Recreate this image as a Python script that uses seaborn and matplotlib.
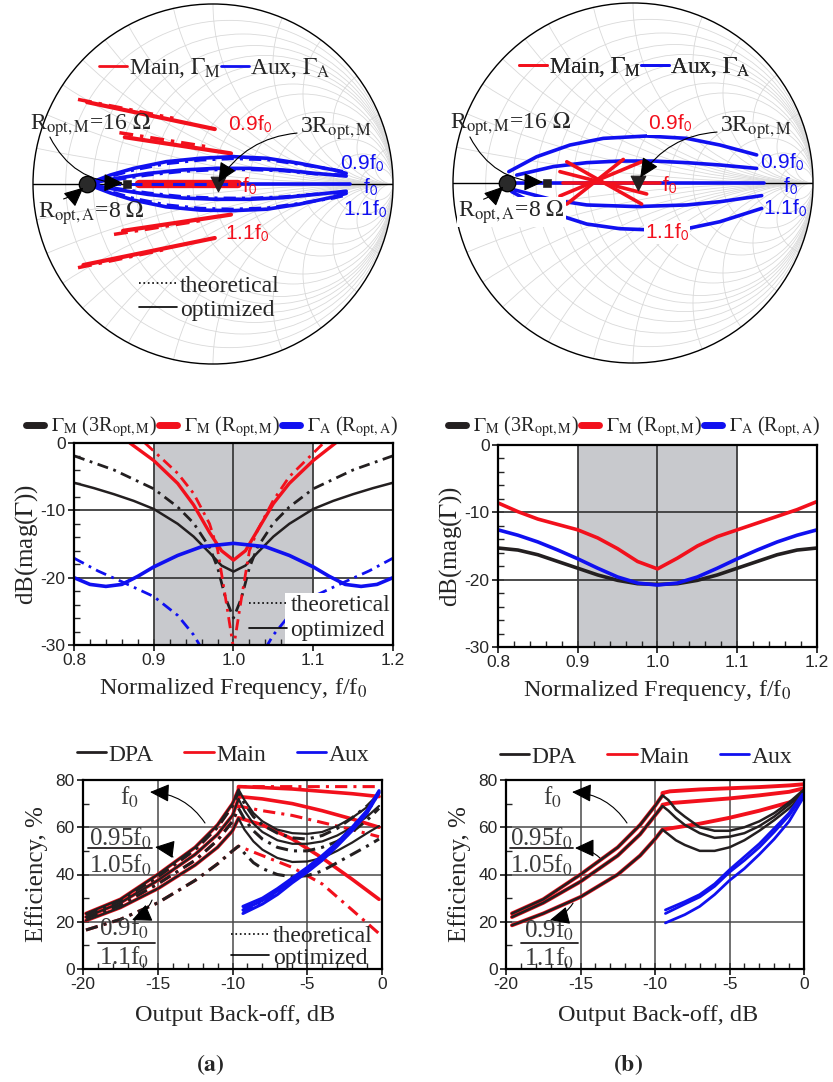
import numpy as np
import matplotlib
matplotlib.use("Agg")
import matplotlib.pyplot as plt
import seaborn as sns
from matplotlib.lines import Line2D
from matplotlib.patches import Circle, Rectangle

sns.set_style("ticks")
plt.rcParams["font.family"] = ["Liberation Serif", "DejaVu Serif"]
plt.rcParams["mathtext.fontset"] = "stix"
plt.rcParams["axes.unicode_minus"] = False

RED = "#f2101c"
BLUE = "#1010f0"
BLK = "#231f20"
GRID = "#d9d9d9"
DASHDOT = (0, (4, 2, 1, 2))

# ---------------- Smith chart (a), Gamma plane ----------------
main_a_re = [[-0.70, 0.01], [-0.49, 0.10], [-0.41, 0.14], [-0.50, 0.10], [-0.72, 0.01]]
main_a_im = [[0.455, 0.305], [0.26, 0.17], [0.0, 0.0], [-0.26, -0.17], [-0.45, -0.30]]
main_a_th_re = [[-0.75, -0.22], [-0.52, -0.02], [-0.55, -0.05], [-0.75, -0.25]]
main_a_th_im = [[0.47, 0.365], [0.285, 0.205], [-0.28, -0.20], [-0.465, -0.36]]

aux_a_out_re = [-0.70, -0.57, -0.44, -0.26, -0.07, 0.11, 0.30, 0.48, 0.67, 0.74]
aux_a_up_im = [0.0, 0.05, 0.087, 0.124, 0.143, 0.152, 0.143, 0.115, 0.078, 0.059]
aux_a_lo_im = [0.0, -0.05, -0.09, -0.127, -0.145, -0.148, -0.14, -0.112, -0.072, -0.052]
aux_a_up_th_im = [0.0, 0.042, 0.078, 0.113, 0.133, 0.141, 0.135, 0.11, 0.08, 0.066]
aux_a_lo_th_im = [0.0, -0.042, -0.08, -0.116, -0.135, -0.14, -0.133, -0.108, -0.078, -0.062]
aux_a_in_re = [-0.70, -0.54, -0.36, -0.17, 0.02, 0.20, 0.39, 0.57, 0.74]
aux_a_upin_im = [0.0, 0.031, 0.059, 0.078, 0.087, 0.087, 0.078, 0.059, 0.044]
aux_a_loin_im = [0.0, -0.03, -0.058, -0.078, -0.085, -0.085, -0.076, -0.058, -0.04]
aux_a_upin_th_im = [0.0, 0.024, 0.05, 0.07, 0.079, 0.08, 0.073, 0.056, 0.05]
aux_a_loin_th_im = [0.0, -0.024, -0.05, -0.07, -0.078, -0.079, -0.071, -0.056, -0.048]
aux_a_mid_re = [0.16, 0.76]
aux_a_mid_th_re = [-0.70, 0.14]

# ---------------- Smith chart (b) ----------------
main_b_re = [[-0.368, 0.048], [-0.406, 0.076], [-0.406, 0.048], [-0.368, -0.054], [-0.387, 0.15]]
main_b_im = [[0.118, -0.117], [0.063, -0.061], [-0.072, 0.118], [-0.117, 0.131], [0.002, 0.002]]

aux_b_out_re = [-0.69, -0.535, -0.35, -0.165, 0.076, 0.298, 0.483, 0.687]
aux_b_out_im = [0.063, 0.146, 0.211, 0.248, 0.261, 0.248, 0.211, 0.156]
aux_b_in_re = [-0.646, -0.443, -0.257, -0.072, 0.113, 0.298, 0.483, 0.687]
aux_b_in_im = [0.044, 0.091, 0.113, 0.122, 0.122, 0.113, 0.10, 0.081]
aux_b_lin_re = [-0.656, -0.443, -0.257, 0.02, 0.298, 0.483, 0.715]
aux_b_lin_im = [-0.039, -0.094, -0.122, -0.131, -0.122, -0.104, -0.07]
aux_b_lout_re = [-0.674, -0.554, -0.433, -0.257, -0.072, 0.113, 0.298, 0.483, 0.715]
aux_b_lout_im = [-0.048, -0.113, -0.172, -0.228, -0.254, -0.261, -0.254, -0.215, -0.141]
aux_b_mid_re = [-0.69, 0.73]

# markers: R_opt,A dot, R_opt,M square, 3R_opt,M triangle
mark_re_a = [-0.70, -0.48, 0.03]
mark_re_b = [-0.70, -0.48, 0.03]

# ---------------- dB(mag(Gamma)) vs f/f0, panel (a) ----------------
blk_a_f = [0.8, 0.825, 0.85, 0.875, 0.9, 0.915, 0.93, 0.95, 0.97, 0.985, 1.0,
           1.015, 1.03, 1.05, 1.07, 1.085, 1.1, 1.125, 1.15, 1.175, 1.2]
blk_a_db = [-5.9, -6.7, -7.6, -8.6, -9.8, -10.9, -12.0, -13.9, -16.3, -18.2, -19.1,
            -18.2, -16.3, -13.9, -12.0, -10.9, -9.8, -8.6, -7.6, -6.7, -5.9]
blk_a_th_f = [0.8, 0.85, 0.9, 0.93, 0.95, 0.97, 0.98, 0.99, 1.0, 1.01, 1.02, 1.03, 1.05, 1.07, 1.1, 1.15, 1.2]
blk_a_th_db = [-1.9, -4.0, -6.8, -9.5, -11.9, -15.5, -18.5, -23.0, -26.0, -23.0, -18.5, -15.5, -11.9, -9.5, -6.8, -4.0, -1.9]
red_a_f = [0.87, 0.9, 0.93, 0.95, 0.97, 0.985, 1.0, 1.015, 1.03, 1.05, 1.07, 1.1, 1.128]
red_a_db = [0.0, -2.6, -6.0, -9.2, -13.3, -16.0, -17.4, -16.0, -13.0, -9.0, -6.0, -2.6, 0.0]
red_a_th_f = [0.889, 0.9, 0.93, 0.95, 0.97, 0.98, 0.99, 1.0, 1.01, 1.02, 1.03, 1.05, 1.07, 1.1, 1.113]
red_a_th_db = [0.0, -1.2, -4.5, -7.5, -12.0, -15.8, -23.0, -30.5, -23.0, -16.0, -13.0, -8.5, -5.0, -1.5, 0.0]
blue_a_f = [0.8, 0.82, 0.84, 0.86, 0.88, 0.9, 0.93, 0.96, 1.0, 1.04, 1.07, 1.1, 1.12, 1.14, 1.16, 1.18, 1.2]
blue_a_db = [-20.0, -21.0, -21.3, -21.0, -19.8, -18.4, -16.7, -15.4, -14.9, -15.4, -16.7, -18.4, -19.8, -21.0, -21.3, -21.0, -20.0]
blue_a_th_f = [0.8, 0.83, 0.86, 0.9, 0.93, 0.95, 0.96, None, 1.04, 1.05, 1.07, 1.1, 1.14, 1.17, 1.2]
blue_a_th_db = [-17.1, -19.0, -20.6, -22.8, -25.6, -28.5, -30.5, None, -30.5, -28.5, -25.6, -22.8, -20.6, -19.0, -17.1]

# ---------------- dB(mag(Gamma)) vs f/f0, panel (b) ----------------
db_b_f = [0.8, 0.825, 0.85, 0.875, 0.9, 0.925, 0.95, 0.975, 1.0,
          1.025, 1.05, 1.075, 1.1, 1.125, 1.15, 1.175, 1.2]
red_b_db = [-8.6, -9.9, -11.0, -11.8, -12.6, -13.8, -15.4, -17.3, -18.4,
            -16.8, -15.0, -13.6, -12.6, -11.6, -10.6, -9.6, -8.4]
blue_b_db = [-12.6, -13.4, -14.4, -15.6, -16.9, -18.3, -19.6, -20.5, -20.8,
             -20.5, -19.6, -18.3, -16.9, -15.6, -14.4, -13.4, -12.6]
blk_b_db = [-15.3, -15.6, -16.3, -17.3, -18.3, -19.3, -20.1, -20.6, -20.7,
            -20.6, -20.1, -19.3, -18.3, -17.3, -16.3, -15.6, -15.3]

# ---------------- Efficiency vs back-off, panel (a) ----------------
eff_a_x = [-19.8, -17.5, -15, -12.5, -11, -10, -9.6, -9.2, -8.6, -8, -7, -6, -5, -4, -3, -2, -1, -0.2]
dpa_a_f0 = [23.5, 29.5, 40, 51.5, 61, 70, 76, 71.5, 66, 62.5, 59, 57.5, 57.2, 58, 60.5, 64, 68.5, 74.5]
dpa_a_095 = [22, 28, 37.5, 48.5, 57, 65, 72, 67, 61.5, 58, 54.5, 53, 53, 54, 56.5, 60, 64.5, 69]
dpa_a_09 = [20.5, 26, 34, 44, 51.5, 58.5, 63.8, 59, 54, 50.5, 47, 45.3, 45.5, 47, 50, 53.5, 57.5, 60.5]
dpa_a_f0_th = [23, 29, 39, 50.5, 60, 69, 75, 70, 64.5, 61, 57.5, 55.5, 55, 56.5, 59.5, 64, 69, 74]
dpa_a_095_th = [21.5, 27, 36, 46, 54.5, 62.5, 68, 63.5, 58.5, 55, 51.5, 50, 50, 51.5, 54, 58, 63, 68]
dpa_a_09_th = [16.5, 21, 28, 37.5, 44.5, 50, 52, 49, 45, 42.5, 40, 39, 39.5, 41.5, 45, 48.5, 52, 55]
main_a_x = [-9.6, -8, -6, -4, -2, -0.2]
main_a_f0 = [77.2, 76.8, 76.2, 75.2, 74.2, 73]
main_a_095 = [73, 72, 70, 67, 63.5, 60]
main_a_09 = [64, 61, 55, 47, 38, 29.5]
main_a_f0_th = [77.2, 77.2, 77.2, 77.2, 77.2, 77.2]
main_a_095_th = [69, 67, 65, 62, 59, 56]
main_a_09_th = [52, 48, 43, 36, 25, 15]
aux_eff_a_x = [-9.3, -8, -7, -6, -5, -4, -3, -2, -1, -0.2]
aux_eff_a = [[25, 29, 33, 37.5, 42, 47, 53, 59.5, 66.5, 75],
             [23.5, 27.5, 31.5, 36.5, 41, 46, 52, 58.5, 66, 74.5],
             [26.5, 30, 34, 38.5, 43, 48, 53.5, 60, 67, 75.5]]
aux_eff_a_th = [[24, 28.5, 32.5, 37, 41.5, 46.5, 52.5, 59, 66, 74.5],
                [25.5, 29.5, 33.5, 38, 42.5, 47.5, 53, 60, 67, 75]]

# ---------------- Efficiency vs back-off, panel (b) ----------------
eff_b_x = [-19.6, -17.5, -15, -12.5, -11, -10, -9.5, -9.1, -8.6, -8, -7, -6, -5, -4, -3, -2, -1, 0]
dpa_b_f0 = [23.5, 29.5, 40, 51.5, 61, 69, 73.5, 71.5, 67.5, 64.5, 60, 58.5, 58.5, 60, 62.5, 66, 70.5, 76]
dpa_b_095 = [22, 28, 37, 48, 57, 65, 69, 67, 64, 61, 57.5, 55.5, 56, 57.5, 60.5, 64.5, 69.5, 75]
dpa_b_09 = [18.5, 23.5, 30.5, 40, 48, 55, 59, 57, 54.5, 52.5, 50, 50, 51.5, 54.5, 58.5, 63, 68, 74]
main_b_x = [-9.5, -9, -7, -5, -3, -1, 0]
main_b_f0 = [74.5, 75.2, 76, 76.5, 77, 77.7, 78.2]
main_b_095 = [69.5, 70.2, 71.2, 72.2, 73.5, 75, 76.5]
main_b_09 = [59, 59.5, 61.5, 64, 67, 70.5, 73]
aux_eff_b_x = [-9.3, -8, -7, -6, -5, -4, -3, -2, -1, -0.1]
aux_eff_b = [[25, 28.5, 31.5, 36, 42, 47.5, 53, 59.5, 66, 74],
             [23.5, 27.5, 30.5, 35, 41, 46, 51.5, 58, 65, 73],
             [19.5, 23, 26.5, 31.5, 37.5, 42.5, 48.5, 55, 62.5, 72]]

W, H = 833, 1082
fig = plt.figure(figsize=(W / 100, H / 100), dpi=100)


def box(l, t, w, h):
    return fig.add_axes([l / W, 1 - (t + h) / H, w / W, h / H])


def line(ax, xs, ys, color, lw=2.0, ls="-", z=2):
    sns.lineplot(x=xs, y=ys, ax=ax, color=color, lw=lw, linestyle=ls,
                 sort=False, estimator=None, zorder=z)


def arrow(ax, tail, head, rad):
    ax.annotate("", xy=head, xytext=tail, zorder=8,
                arrowprops=dict(arrowstyle="-|>,head_length=0.6,head_width=0.28",
                                color="black", lw=0.8, mutation_scale=20,
                                shrinkA=0, shrinkB=0,
                                connectionstyle=f"arc3,rad={rad}"))


def th_opt_legend(ax, loc_xy, fs, spacing=0.1):
    hs = [Line2D([], [], color="black", lw=1.2, ls=":"),
          Line2D([], [], color="black", lw=1.2)]
    lg = ax.legend(hs, ["theoretical", "optimized"], loc="center",
                   bbox_to_anchor=loc_xy, bbox_transform=ax.transData,
                   frameon=False, fontsize=fs, handlelength=1.6,
                   handletextpad=0.15, labelspacing=spacing, borderpad=0)
    lg.set_zorder(9)
    return lg


r_grid = [0.1, 0.2, 0.3, 0.4, 0.5, 0.6, 0.8, 1.0, 1.5, 2.0, 3.0, 5.0, 10.0]
x_grid = [0.1, 0.2, 0.3, 0.4, 0.5, 0.6, 0.8, 1.0, 1.5, 2.0, 3.0, 5.0, 10.0]


def smith_base(ax):
    ax.axis("off")
    edge = Circle((0, 0), 1, transform=ax.transData, fc="none", ec="none")
    ax.add_patch(edge)
    for r in r_grid:
        ax.add_patch(Circle((r / (1 + r), 0), 1 / (1 + r), fill=False, ec=GRID, lw=0.6, zorder=0))
    for x in x_grid:
        for s in (1, -1):
            c = Circle((1, s / x), 1 / x, fill=False, ec=GRID, lw=0.6, zorder=0)
            ax.add_patch(c)
            c.set_clip_path(edge)
    ax.add_patch(Circle((0, 0), 1, fill=False, ec="black", lw=1.0, zorder=1, clip_on=False))
    ax.plot([-1, 1], [0, 0], color="black", lw=1.0, zorder=1)


def smith_finish(ax, marks):
    sns.scatterplot(x=[marks[0]], y=[0], ax=ax, s=140, color="#2a2a2a", edgecolor="black", zorder=6)
    sns.scatterplot(x=[marks[1]], y=[0], ax=ax, s=30, marker="s", color=BLK, edgecolor=BLK, zorder=6)
    sns.scatterplot(x=[marks[2]], y=[0], ax=ax, s=110, marker="v", color=BLK, edgecolor=BLK, zorder=6)
    hs = [Line2D([], [], color=RED, lw=2), Line2D([], [], color=BLUE, lw=2)]
    lg = ax.legend(hs, [r"Main, $\Gamma_{\rm M}$", r"Aux, $\Gamma_{\rm A}$"], ncol=2, loc="center",
                   bbox_to_anchor=(0.01, 0.644), bbox_transform=ax.transData, frameon=False,
                   fontsize=17, handlelength=1.2, handletextpad=0.05, columnspacing=0.0, borderpad=0)
    ax.add_artist(lg)
    ax.set_xlim(-1, 1)
    ax.set_ylim(-1, 1)
    ax.set_aspect("equal")


def smith_text(ax, wb):
    bb = dict(fc="white", ec="none", pad=0.6) if wb else None
    ax.text(-1.017, 0.33, r"R$_{\rm opt,M}$=16 $\Omega$", fontsize=17, va="center", zorder=7)
    ax.text(-0.972, -0.161, r"R$_{\rm opt,A}$=8 $\Omega$", fontsize=17, va="center", zorder=7, bbox=bb)
    ax.text(0.483, 0.31, r"3R$_{\rm opt,M}$", fontsize=17, va="center", zorder=7)
    sans = dict(fontfamily="Liberation Sans", fontsize=15, va="center", zorder=7)
    ax.text(0.083, 0.33, r"0.9f$_\mathsf{0}$", color=RED, bbox=bb, **sans)
    ax.text(0.161, -0.01, r"f$_\mathsf{0}$", color=RED, **sans)
    ax.text(0.067, -0.275, r"1.1f$_\mathsf{0}$", color=RED, bbox=bb, **sans)
    ax.text(0.706, 0.117, r"0.9f$_\mathsf{0}$", color=BLUE, **sans)
    ax.text(0.833, -0.015, r"f$_\mathsf{0}$", color=BLUE, **sans)
    ax.text(0.722, -0.142, r"1.1f$_\mathsf{0}$", color=BLUE, **sans)


# ======== Smith (a) ========
ax = box(33, 4, 360, 360)
smith_base(ax)
for xs, ys in zip(main_a_re, main_a_im):
    line(ax, xs, ys, RED, 3.0)
line(ax, main_a_re[2], main_a_im[2], RED, 6.0)
for xs, ys in zip(main_a_th_re, main_a_th_im):
    line(ax, xs, ys, RED, 2.5, DASHDOT)
for ys in (aux_a_up_im, aux_a_lo_im):
    line(ax, aux_a_out_re, ys, BLUE, 2.6, z=3)
for ys in (aux_a_up_th_im, aux_a_lo_th_im):
    line(ax, aux_a_out_re, ys, BLUE, 2.2, DASHDOT, z=3)
for ys in (aux_a_upin_im, aux_a_loin_im):
    line(ax, aux_a_in_re, ys, BLUE, 2.6, z=3)
for ys in (aux_a_upin_th_im, aux_a_loin_th_im):
    line(ax, aux_a_in_re, ys, BLUE, 2.2, DASHDOT, z=3)
line(ax, aux_a_mid_re, [0, 0], BLUE, 2.6, z=3)
line(ax, aux_a_mid_th_re, [0, 0], BLUE, 2.2, (0, (4, 3)), z=4)
smith_finish(ax, mark_re_a)
smith_text(ax, False)
arrow(ax, (-0.906, 0.261), (-0.50, 0.005), 0.3)
arrow(ax, (-0.83, -0.083), (-0.72, -0.02), 0.1)
arrow(ax, (0.467, 0.283), (0.03, 0.01), 0.25)
th_opt_legend(ax, (-0.02, -0.633), 17)

# ======== Smith (b) ========
ax = box(453, 3, 360, 360)
smith_base(ax)
line(ax, aux_b_out_re, aux_b_out_im, BLUE, 2.6)
line(ax, aux_b_in_re, aux_b_in_im, BLUE, 2.6)
line(ax, aux_b_lin_re, aux_b_lin_im, BLUE, 2.6)
line(ax, aux_b_lout_re, aux_b_lout_im, BLUE, 2.6)
line(ax, aux_b_mid_re, [0, 0], BLUE, 2.6)
for xs, ys in zip(main_b_re, main_b_im):
    line(ax, xs, ys, RED, 2.6, z=3)
smith_finish(ax, mark_re_b)
smith_text(ax, True)
arrow(ax, (-0.906, 0.256), (-0.50, 0.005), 0.3)
arrow(ax, (-0.83, -0.09), (-0.72, -0.02), 0.1)
arrow(ax, (0.467, 0.283), (0.04, 0.03), 0.25)


# ======== dB panels ========
def db_base(ax):
    ax.axvspan(0.9, 1.1, color="#c8c9cd", zorder=0, lw=0)
    for v in (0.9, 1.0, 1.1):
        ax.axvline(v, color="#3c3c3c", lw=1.3, zorder=1)
    for v in (-10, -20):
        ax.axhline(v, color="#3c3c3c", lw=1.3, zorder=1)


def style_axes(ax):
    for s in ax.spines.values():
        s.set_linewidth(1.6)
        s.set_color("black")
        s.set_zorder(6)
    ax.tick_params(which="major", direction="inout", length=8, width=1.3, labelsize=12.5,
                   labelfontfamily="Liberation Sans", pad=2, top=False, right=False)
    ax.tick_params(which="minor", direction="in", length=4, width=1.0, top=False, right=False)


def db_finish(ax):
    ax.set_xlim(0.8, 1.2)
    ax.set_ylim(-30, 0)
    ax.set_xticks([0.8, 0.9, 1.0, 1.1, 1.2], ["0.8", "0.9", "1.0", "1.1", "1.2"])
    ax.set_xticks(np.arange(0.8, 1.2001, 0.02), minor=True)
    ax.set_yticks([-30, -20, -10, 0], ["-30", "-20", "-10", "0"])
    ax.set_yticks(np.arange(-30, 0.1, 2), minor=True)
    ax.set_xlabel(r"Normalized Frequency, f/f$_{\rm 0}$", fontsize=17.5)
    ax.xaxis.set_label_coords(0.5, -0.215)
    ax.xaxis.label.set_va("center")
    ax.set_ylabel(r"dB(mag($\Gamma$))", fontsize=18)
    ax.yaxis.set_label_coords(-0.15, 0.5)
    ax.yaxis.label.set_va("center")
    style_axes(ax)


def db_legend(cx):
    hs = [Line2D([], [], color=BLK, lw=5), Line2D([], [], color=RED, lw=5),
          Line2D([], [], color=BLUE, lw=5)]
    labels = [r"$\Gamma_{\rm M}$ (3R$_{\rm opt,M}$)", r"$\Gamma_{\rm M}$ (R$_{\rm opt,M}$)",
              r"$\Gamma_{\rm A}$ (R$_{\rm opt,A}$)"]
    fig.legend(hs, labels, ncol=3, loc="center", bbox_to_anchor=(cx / W, 1 - 427 / H),
               frameon=False, fontsize=14.5, handlelength=0.9, handletextpad=0.35,
               columnspacing=0.1, borderpad=0)


ax = box(74, 443, 319, 202)
db_base(ax)
line(ax, blk_a_f, blk_a_db, BLK, 1.8)
line(ax, blk_a_th_f, blk_a_th_db, BLK, 2.0, DASHDOT)
line(ax, red_a_f, red_a_db, RED, 2.4)
line(ax, red_a_th_f, red_a_th_db, RED, 2.0, DASHDOT)
line(ax, blue_a_f, blue_a_db, BLUE, 2.6)
line(ax, blue_a_th_f[:7], blue_a_th_db[:7], BLUE, 2.0, DASHDOT)
line(ax, blue_a_th_f[8:], blue_a_th_db[8:], BLUE, 2.0, DASHDOT)
ax.add_patch(Rectangle((1.065, -30), 0.135, 7.7, color="white", zorder=5, lw=0))
th_opt_legend(ax, (1.108, -26.0), 17, spacing=0.15)
db_finish(ax)
db_legend(212)

ax = box(498, 445, 319, 202)
db_base(ax)
line(ax, db_b_f, blk_b_db, BLK, 2.6)
line(ax, db_b_f, blue_b_db, BLUE, 2.6)
line(ax, db_b_f, red_b_db, RED, 2.6)
db_finish(ax)
db_legend(634)


# ======== Efficiency panels ========
def eff_base(ax):
    for v in (-15, -10, -5):
        ax.axvline(v, color="#4a4a4a", lw=1.1, zorder=1)
    for v in (20, 40, 60):
        ax.axhline(v, color="#4a4a4a", lw=1.1, zorder=1)


def eff_finish(ax):
    ax.set_xlim(-20, 0)
    ax.set_ylim(0, 80)
    ax.set_xticks([-20, -15, -10, -5, 0], ["-20", "-15", "-10", "-5", "0"])
    ax.set_xticks(np.arange(-20, 0.1, 1), minor=True)
    ax.set_yticks([0, 20, 40, 60, 80], ["0", "20", "40", "60", "80"])
    ax.set_yticks(np.arange(0, 80.1, 10), minor=True)
    ax.set_xlabel("Output Back-off, dB", fontsize=17.5)
    ax.xaxis.set_label_coords(0.51, -0.245)
    ax.xaxis.label.set_va("center")
    ax.set_ylabel("Efficiency, %", fontsize=18)
    ax.yaxis.set_label_coords(-0.155, 0.5)
    ax.yaxis.label.set_va("center")
    style_axes(ax)


def eff_legend(cx, cy):
    hs = [Line2D([], [], color=BLK, lw=2), Line2D([], [], color=RED, lw=2),
          Line2D([], [], color=BLUE, lw=2)]
    fig.legend(hs, ["DPA", "Main", "Aux"], ncol=3, loc="center",
               bbox_to_anchor=(cx / W, 1 - cy / H), frameon=False, fontsize=17,
               handlelength=1.25, handletextpad=0.1, columnspacing=1.3, borderpad=0)


def eff_notes(ax, f0_xy, mid_xy, low_xy, bar1, bar2, arrows):
    kw = dict(fontsize=18, color="#3a3a3a", ha="center", va="center", zorder=8)
    ax.text(*f0_xy, r"f$_{\rm 0}$", **kw)
    ax.text(mid_xy[0], mid_xy[1], r"0.95f$_{\rm 0}$", **kw)
    ax.text(mid_xy[0], mid_xy[1] - 11.4, r"1.05f$_{\rm 0}$", **kw)
    ax.text(low_xy[0], low_xy[1], r"0.9f$_{\rm 0}$", **kw)
    ax.text(low_xy[0], low_xy[1] - 12.2, r"1.1f$_{\rm 0}$", **kw)
    for b in (bar1, bar2):
        ax.plot(b[:2], [b[2], b[2]], color=BLK, lw=1.3, zorder=8)
    for tail, head, rad in arrows:
        arrow(ax, tail, head, rad)


ax = box(83, 780, 299, 189)
eff_base(ax)
for ys, ms in ((dpa_a_f0, main_a_f0), (dpa_a_095, main_a_095), (dpa_a_09, main_a_09)):
    line(ax, eff_a_x[:7] + main_a_x, ys[:7] + ms, RED, 2.6)
for ys, ms in ((dpa_a_f0_th, main_a_f0_th), (dpa_a_095_th, main_a_095_th), (dpa_a_09_th, main_a_09_th)):
    line(ax, eff_a_x[:7] + main_a_x, ys[:7] + ms, RED, 2.2, DASHDOT)
for ys in (dpa_a_f0, dpa_a_095, dpa_a_09):
    line(ax, eff_a_x, ys, BLK, 1.6, z=3)
for ys in (dpa_a_f0_th, dpa_a_095_th, dpa_a_09_th):
    line(ax, eff_a_x, ys, BLK, 2.2, DASHDOT, z=3)
for ys in aux_eff_a:
    line(ax, aux_eff_a_x, ys, BLUE, 2.2, z=4)
for ys in aux_eff_a_th:
    line(ax, aux_eff_a_x, ys, BLUE, 2.0, DASHDOT, z=4)
eff_notes(ax, (-16.86, 72.8), (-17.5, 55.4), (-17.26, 17.0),
          (-19.67, -15.4, 51.2), (-19.0, -15.18, 11.2),
          [((-11.84, 61.8), (-15.52, 74.9), 0.25),
           ((-13.98, 47.4), (-15.18, 51.6), 0.2),
           ((-15.38, 29.2), (-16.72, 20.7), -0.2)])
th_opt_legend(ax, (-5.35, 9.3), 17, spacing=0.0)
eff_finish(ax)
eff_legend(223, 755)

ax = box(506, 780, 298, 189)
eff_base(ax)
for ys, ms in ((dpa_b_f0, main_b_f0), (dpa_b_095, main_b_095), (dpa_b_09, main_b_09)):
    line(ax, eff_b_x[:7] + main_b_x, ys[:7] + ms, RED, 2.8)
for ys in (dpa_b_f0, dpa_b_095, dpa_b_09):
    line(ax, eff_b_x, ys, BLK, 1.8, z=3)
for ys in aux_eff_b:
    line(ax, aux_eff_b_x, ys, BLUE, 2.0, z=4)
eff_notes(ax, (-16.9, 72.8), (-17.65, 55.4), (-17.1, 16.5),
          (-19.73, -15.5, 51.2), (-19.0, -15.17, 11.2),
          [((-11.88, 61.8), (-15.57, 74.9), 0.25),
           ((-13.7, 47.0), (-15.37, 51.2), 0.2),
           ((-15.5, 27.9), (-17.05, 20.7), -0.2)])
eff_finish(ax)
eff_legend(646, 757)

fig.text(210 / W, 1 - 1065 / H, r"$\mathbf{(a)}$", ha="center", va="center", fontsize=17)
fig.text(628 / W, 1 - 1065 / H, r"$\mathbf{(b)}$", ha="center", va="center", fontsize=17)

fig.savefig("out.png", dpi=100)
